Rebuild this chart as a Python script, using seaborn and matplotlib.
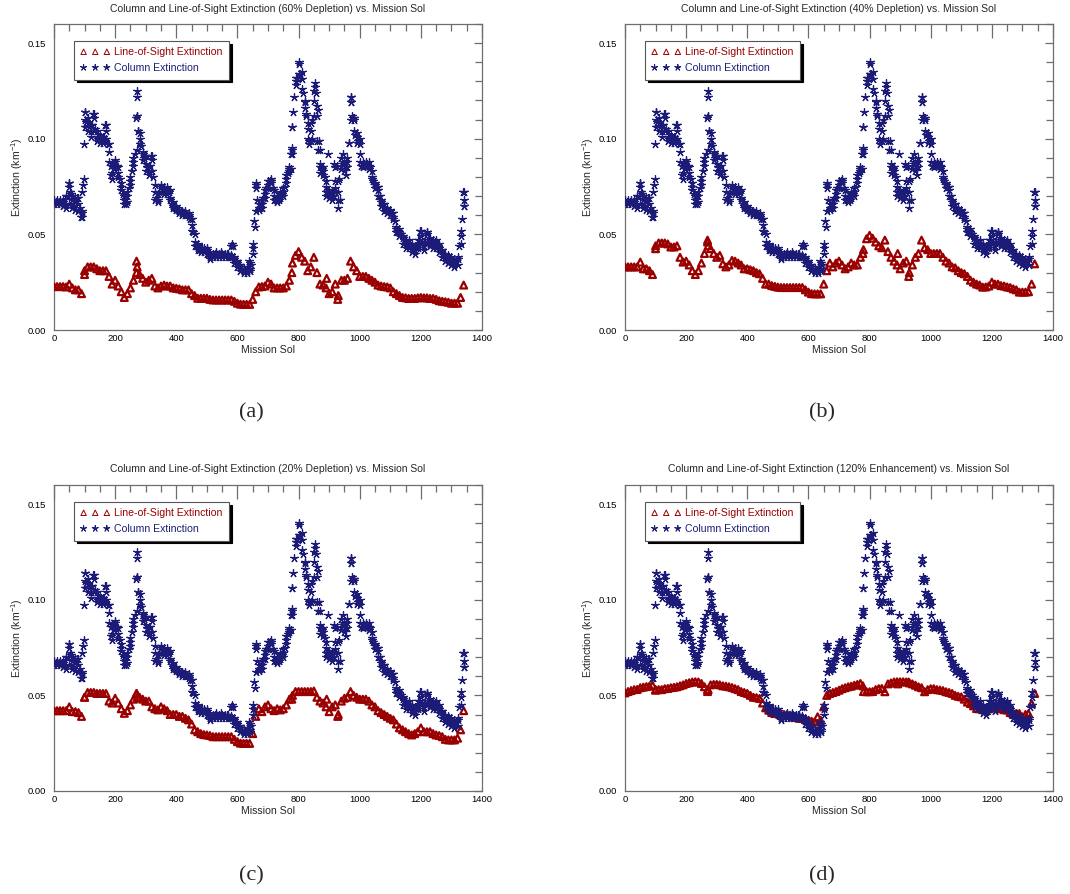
import numpy as np
import pandas as pd
import matplotlib
matplotlib.use("Agg")
import matplotlib.pyplot as plt
from matplotlib.ticker import MultipleLocator, FormatStrFormatter
import seaborn as sns

# ---------------------------------------------------------------------------
# Column extinction (same in every panel), sampled every 5 sols
# ---------------------------------------------------------------------------
col_sol = np.arange(0, 1345, 5)
col_ext = [
    0.067, 0.067, 0.067, 0.067, 0.067, 0.067, 0.067, 0.066, 0.066, 0.070,
    0.075, 0.071, 0.068, 0.065, 0.067, 0.069, 0.066, 0.064, 0.062, 0.076,
    0.110, 0.109, 0.108, 0.106, 0.104, 0.107, 0.111, 0.105, 0.101, 0.100,
    0.100, 0.101, 0.099, 0.100, 0.104, 0.097, 0.093, 0.086, 0.082, 0.084,
    0.088, 0.086, 0.082, 0.079, 0.075, 0.071, 0.068, 0.066, 0.070, 0.074,
    0.078, 0.083, 0.088, 0.092, 0.112, 0.104, 0.100, 0.096, 0.092, 0.090,
    0.087, 0.085, 0.083, 0.086, 0.089, 0.080, 0.072, 0.069, 0.068, 0.072,
    0.075, 0.074, 0.073, 0.073, 0.073, 0.072, 0.068, 0.066, 0.065, 0.064,
    0.064, 0.063, 0.062, 0.062, 0.061, 0.061, 0.061, 0.060, 0.060, 0.058,
    0.055, 0.051, 0.046, 0.044, 0.043, 0.042, 0.042, 0.043, 0.042, 0.042,
    0.042, 0.040, 0.038, 0.039, 0.039, 0.040, 0.040, 0.039, 0.039, 0.041,
    0.039, 0.039, 0.039, 0.040, 0.039, 0.038, 0.039, 0.044, 0.037, 0.036,
    0.035, 0.034, 0.033, 0.032, 0.031, 0.031, 0.031, 0.033, 0.032, 0.034,
    0.043, 0.057, 0.074, 0.068, 0.064, 0.064, 0.066, 0.069, 0.071, 0.074,
    0.076, 0.078, 0.078, 0.074, 0.070, 0.068, 0.068, 0.068, 0.070, 0.071,
    0.072, 0.075, 0.079, 0.082, 0.084, 0.084, 0.094, 0.122, 0.130, 0.132,
    0.139, 0.134, 0.131, 0.124, 0.119, 0.113, 0.105, 0.099, 0.104, 0.110,
    0.120, 0.127, 0.112, 0.094, 0.085, 0.084, 0.083, 0.080, 0.075, 0.073,
    0.072, 0.071, 0.070, 0.070, 0.078, 0.086, 0.072, 0.068, 0.086, 0.087,
    0.087, 0.085, 0.088, 0.098, 0.119, 0.112, 0.110, 0.102, 0.101, 0.099,
    0.092, 0.086, 0.086, 0.087, 0.087, 0.087, 0.086, 0.085, 0.080, 0.078,
    0.076, 0.075, 0.073, 0.070, 0.067, 0.066, 0.064, 0.063, 0.063, 0.062,
    0.062, 0.061, 0.059, 0.057, 0.053, 0.052, 0.051, 0.050, 0.048, 0.047,
    0.045, 0.045, 0.045, 0.044, 0.043, 0.042, 0.042, 0.043, 0.045, 0.047,
    0.049, 0.046, 0.044, 0.046, 0.050, 0.047, 0.045, 0.045, 0.045, 0.046,
    0.045, 0.044, 0.043, 0.042, 0.040, 0.039, 0.038, 0.037, 0.037, 0.036,
    0.036, 0.035, 0.035, 0.036, 0.037, 0.044, 0.049, 0.058, 0.068,
]

# Lower and upper edges of the column-extinction cloud, every 10 sols
col_edge_sol = np.arange(0, 1350, 10)
col_lo = [
    0.066, 0.066, 0.066, 0.065, 0.064, 0.066, 0.064, 0.063, 0.062, 0.059,
    0.106, 0.104, 0.101, 0.104, 0.099, 0.098, 0.098, 0.100, 0.088, 0.079,
    0.085, 0.080, 0.073, 0.066, 0.067, 0.076, 0.086, 0.094, 0.097, 0.089,
    0.083, 0.081, 0.083, 0.068, 0.067, 0.072, 0.071, 0.071, 0.069, 0.064,
    0.063, 0.061, 0.060, 0.060, 0.059, 0.052, 0.044, 0.042, 0.041, 0.041,
    0.040, 0.037, 0.038, 0.038, 0.038, 0.038, 0.038, 0.038, 0.038, 0.035,
    0.033, 0.031, 0.030, 0.030, 0.031, 0.040, 0.062, 0.063, 0.064, 0.069,
    0.074, 0.077, 0.068, 0.067, 0.069, 0.070, 0.077, 0.083, 0.092, 0.128,
    0.134, 0.126, 0.116, 0.100, 0.099, 0.112, 0.099, 0.082, 0.081, 0.072,
    0.069, 0.068, 0.072, 0.068, 0.084, 0.083, 0.085, 0.110, 0.104, 0.098,
    0.088, 0.085, 0.086, 0.084, 0.079, 0.074, 0.070, 0.065, 0.062, 0.061,
    0.060, 0.058, 0.051, 0.049, 0.045, 0.043, 0.043, 0.041, 0.040, 0.043,
    0.045, 0.042, 0.046, 0.044, 0.043, 0.043, 0.041, 0.038, 0.036, 0.035,
    0.034, 0.033, 0.034, 0.045, 0.065,
]
col_hi = [
    0.068, 0.068, 0.068, 0.068, 0.070, 0.077, 0.070, 0.069, 0.069, 0.072,
    0.114, 0.111, 0.107, 0.113, 0.104, 0.102, 0.101, 0.107, 0.097, 0.087,
    0.089, 0.085, 0.077, 0.070, 0.072, 0.080, 0.090, 0.112, 0.103, 0.093,
    0.091, 0.086, 0.091, 0.076, 0.071, 0.076, 0.075, 0.075, 0.073, 0.067,
    0.065, 0.063, 0.062, 0.062, 0.061, 0.058, 0.050, 0.045, 0.043, 0.043,
    0.043, 0.040, 0.040, 0.041, 0.040, 0.040, 0.040, 0.040, 0.044, 0.038,
    0.036, 0.034, 0.032, 0.033, 0.035, 0.045, 0.076, 0.066, 0.068, 0.073,
    0.078, 0.079, 0.073, 0.070, 0.072, 0.074, 0.081, 0.085, 0.106, 0.132,
    0.140, 0.135, 0.120, 0.108, 0.108, 0.125, 0.117, 0.087, 0.085, 0.078,
    0.073, 0.072, 0.085, 0.078, 0.090, 0.088, 0.090, 0.122, 0.111, 0.103,
    0.097, 0.088, 0.088, 0.088, 0.083, 0.077, 0.075, 0.068, 0.066, 0.064,
    0.063, 0.061, 0.054, 0.053, 0.049, 0.047, 0.047, 0.045, 0.044, 0.047,
    0.052, 0.046, 0.051, 0.048, 0.047, 0.047, 0.045, 0.042, 0.040, 0.039,
    0.038, 0.037, 0.038, 0.052, 0.072,
]

# Scattered column retrievals away from the main band
col_extra_sol = [48, 52, 87, 92, 97, 99, 101, 128, 168, 185,
                 268, 270, 272, 275, 318, 582, 638, 656, 660, 775,
                 778, 780, 782, 825, 835, 845, 855, 858, 862, 866,
                 870, 890, 895, 915, 920, 928, 932, 945, 955, 965,
                 970, 972, 978, 1000, 1198, 1220, 1337, 1340]
col_extra_ext = [0.077, 0.072, 0.059, 0.061, 0.079, 0.097, 0.114, 0.113, 0.107, 0.081,
                 0.111, 0.125, 0.122, 0.104, 0.091, 0.045, 0.036, 0.054, 0.077, 0.092,
                 0.095, 0.106, 0.114, 0.112, 0.097, 0.100, 0.129, 0.124, 0.115, 0.099,
                 0.094, 0.070, 0.092, 0.087, 0.074, 0.064, 0.079, 0.092, 0.081, 0.098,
                 0.122, 0.119, 0.111, 0.100, 0.052, 0.051, 0.072, 0.065]

# ---------------------------------------------------------------------------
# Line-of-sight extinction for the four scenarios, sampled every 10 sols
# ---------------------------------------------------------------------------
los_sol = np.arange(0, 1350, 10)
los_dep60 = [
    0.0227, 0.0227, 0.0227, 0.0227, 0.0225, 0.024, 0.022, 0.021, 0.021, 0.019,
    0.031, 0.033, 0.033, 0.033, 0.032, 0.031, 0.031, 0.031, 0.028, 0.024,
    0.026, 0.023, 0.020, 0.017, 0.019, 0.022, 0.026, 0.030, 0.029, 0.027,
    0.025, 0.026, 0.027, 0.023, 0.022, 0.023, 0.0235, 0.023, 0.023, 0.022,
    0.0218, 0.0215, 0.021, 0.021, 0.021, 0.019, 0.018, 0.0166, 0.0166, 0.0166,
    0.0166, 0.016, 0.0157, 0.0157, 0.0157, 0.0157, 0.0157, 0.0157, 0.0157, 0.015,
    0.014, 0.0135, 0.0134, 0.0134, 0.0134, 0.016, 0.020, 0.0225, 0.0227, 0.023,
    0.025, 0.024, 0.022, 0.022, 0.022, 0.022, 0.023, 0.026, 0.035, 0.039,
    0.041, 0.038, 0.036, 0.031, 0.033, 0.038, 0.030, 0.024, 0.0235, 0.022,
    0.019, 0.020, 0.024, 0.018, 0.026, 0.026, 0.027, 0.036, 0.033, 0.031,
    0.028, 0.028, 0.028, 0.027, 0.026, 0.025, 0.0235, 0.023, 0.0227, 0.0225,
    0.022, 0.020, 0.019, 0.018, 0.017, 0.0168, 0.0165, 0.0165, 0.0165, 0.0168,
    0.017, 0.0168, 0.0168, 0.0165, 0.0165, 0.016, 0.0153, 0.015, 0.0148, 0.0145,
    0.014, 0.014, 0.014, 0.017, 0.0235,
]
los_dep40 = [
    0.033, 0.033, 0.033, 0.033, 0.033, 0.0355, 0.032, 0.032, 0.031, 0.029,
    0.044, 0.0455, 0.0455, 0.0455, 0.045, 0.0434, 0.0434, 0.044, 0.038, 0.0355,
    0.036, 0.034, 0.031, 0.029, 0.031, 0.035, 0.040, 0.046, 0.0425, 0.040,
    0.038, 0.039, 0.0346, 0.033, 0.034, 0.0364, 0.036, 0.035, 0.034, 0.032,
    0.032, 0.0315, 0.031, 0.030, 0.0294, 0.027, 0.024, 0.024, 0.0232, 0.0228,
    0.0224, 0.0222, 0.0222, 0.0222, 0.0222, 0.0222, 0.0222, 0.0222, 0.0222, 0.021,
    0.0198, 0.019, 0.0189, 0.0189, 0.0189, 0.024, 0.031, 0.035, 0.033, 0.035,
    0.036, 0.034, 0.032, 0.033, 0.035, 0.034, 0.034, 0.038, 0.042, 0.0477,
    0.0495, 0.048, 0.046, 0.044, 0.043, 0.047, 0.041, 0.038, 0.036, 0.034,
    0.032, 0.035, 0.036, 0.030, 0.034, 0.038, 0.040, 0.047, 0.043, 0.042,
    0.040, 0.040, 0.040, 0.040, 0.038, 0.036, 0.035, 0.033, 0.0325, 0.031,
    0.030, 0.0294, 0.028, 0.026, 0.025, 0.024, 0.0235, 0.0224, 0.0225, 0.023,
    0.025, 0.024, 0.024, 0.0232, 0.023, 0.0225, 0.0222, 0.0215, 0.021, 0.0198,
    0.0198, 0.0198, 0.020, 0.024, 0.0346,
]
los_dep20 = [
    0.042, 0.042, 0.042, 0.042, 0.042, 0.044, 0.0415, 0.0415, 0.041, 0.039,
    0.049, 0.0515, 0.0515, 0.0515, 0.051, 0.051, 0.051, 0.051, 0.047, 0.046,
    0.0485, 0.046, 0.043, 0.0406, 0.042, 0.045, 0.048, 0.051, 0.049, 0.048,
    0.047, 0.047, 0.044, 0.043, 0.0424, 0.044, 0.043, 0.042, 0.040, 0.040,
    0.040, 0.039, 0.039, 0.038, 0.0372, 0.035, 0.032, 0.031, 0.030, 0.0295,
    0.0293, 0.029, 0.0284, 0.0284, 0.0284, 0.0284, 0.0284, 0.0284, 0.0284, 0.027,
    0.0258, 0.025, 0.0249, 0.0249, 0.0249, 0.030, 0.039, 0.043, 0.0415, 0.044,
    0.045, 0.043, 0.042, 0.043, 0.0424, 0.043, 0.045, 0.048, 0.050, 0.052,
    0.052, 0.052, 0.052, 0.052, 0.052, 0.0523, 0.049, 0.047, 0.046, 0.044,
    0.0415, 0.044, 0.045, 0.040, 0.047, 0.0485, 0.049, 0.052, 0.050, 0.049,
    0.048, 0.048, 0.048, 0.047, 0.045, 0.044, 0.042, 0.041, 0.040, 0.039,
    0.038, 0.0372, 0.035, 0.033, 0.032, 0.031, 0.030, 0.0293, 0.030, 0.031,
    0.033, 0.031, 0.031, 0.031, 0.030, 0.0293, 0.029, 0.0284, 0.027, 0.0267,
    0.0267, 0.0267, 0.0276, 0.032, 0.042,
]
los_enh120 = [
    0.0513, 0.052, 0.0525, 0.053, 0.0531, 0.054, 0.0543, 0.0546, 0.0548, 0.0553,
    0.0527, 0.053, 0.053, 0.0535, 0.0536, 0.054, 0.0542, 0.0545, 0.055, 0.0555,
    0.0562, 0.0566, 0.057, 0.0571, 0.057, 0.0562, 0.0545, 0.053, 0.0555, 0.0557,
    0.0557, 0.0555, 0.055, 0.0548, 0.0545, 0.0541, 0.0535, 0.053, 0.052, 0.0515,
    0.051, 0.050, 0.049, 0.0488, 0.0484, 0.046, 0.0435, 0.0423, 0.041, 0.0405,
    0.0405, 0.040, 0.040, 0.040, 0.0396, 0.039, 0.0385, 0.038, 0.0379, 0.0375,
    0.037, 0.0365, 0.0361, 0.0388, 0.037, 0.044, 0.050, 0.051, 0.0515, 0.052,
    0.0527, 0.0535, 0.054, 0.0545, 0.0548, 0.0553, 0.0557, 0.0562, 0.052, 0.0519,
    0.0519, 0.052, 0.053, 0.0535, 0.0536, 0.0519, 0.056, 0.0565, 0.057, 0.0571,
    0.0571, 0.0571, 0.057, 0.0565, 0.056, 0.0553, 0.0545, 0.054, 0.0519, 0.053,
    0.0535, 0.0535, 0.053, 0.0528, 0.0525, 0.0519, 0.0515, 0.051, 0.050, 0.0495,
    0.0492, 0.048, 0.0465, 0.0457, 0.0445, 0.0431, 0.043, 0.0425, 0.0423, 0.043,
    0.044, 0.0435, 0.043, 0.0431, 0.0425, 0.0423, 0.041, 0.040, 0.0405, 0.0405,
    0.0388, 0.040, 0.0405, 0.0457, 0.051,
]

# Scattered line-of-sight retrievals
los_extra_sol = [100, 270, 272, 778, 892, 928]
los_extra_dep60 = [0.029, 0.036, 0.033, 0.030, 0.027, 0.016]
los_extra_dep40 = [0.0425, 0.047, 0.044, 0.040, 0.040, 0.028]
los_extra_dep20 = [0.049, 0.051, 0.049, 0.048, 0.048, 0.039]
los_extra_enh120 = [0.053, 0.052, 0.053, 0.055, 0.056, 0.057]

scenarios = ["60% Depletion", "40% Depletion", "20% Depletion", "120% Enhancement"]
panel_tags = ["(a)", "(b)", "(c)", "(d)"]
los_main = [los_dep60, los_dep40, los_dep20, los_enh120]
los_extra = [los_extra_dep60, los_extra_dep40, los_extra_dep20, los_extra_enh120]

RED = "#9a0000"
BLUE = "#1c1c78"
AXIS_GREY = "#6e6e6e"

sns.set_style("white")
plt.rcParams["font.family"] = ["Liberation Sans", "DejaVu Sans"]
plt.rcParams["mathtext.default"] = "regular"

W, H = 1070, 894
fig = plt.figure(figsize=(W / 100, H / 100), dpi=100)

# axes rectangles in pixels: (left, top, width, height)
rects_px = [(54, 24, 428, 306), (625, 24, 428, 306),
            (54, 485, 428, 306), (625, 485, 428, 306)]
tag_pos_px = [(251, 413), (822, 413), (251, 876), (822, 876)]

star = (5, 2, 0)  # five-armed asterisk

col_df = pd.DataFrame({
    "sol": np.concatenate([col_sol, col_edge_sol, col_edge_sol, col_extra_sol]),
    "ext": np.concatenate([col_ext, col_lo, col_hi, col_extra_ext]),
})

for i in range(4):
    l, t, w, h = rects_px[i]
    ax = fig.add_axes([l / W, 1 - (t + h) / H, w / W, h / H])

    los_df = pd.DataFrame({
        "sol": np.concatenate([los_sol, los_extra_sol]),
        "ext": np.concatenate([los_main[i], los_extra[i]]),
    })

    sns.scatterplot(data=los_df, x="sol", y="ext", ax=ax, marker="^",
                    s=24, facecolor="none", edgecolor=RED, color=RED,
                    linewidth=1.6, label="Line-of-Sight Extinction", zorder=3)
    sns.scatterplot(data=col_df, x="sol", y="ext", ax=ax, marker=star,
                    s=30, color=BLUE, edgecolor=BLUE, linewidth=0.9,
                    label="Column Extinction", zorder=4)

    ax.set_xlim(0, 1400)
    ax.set_ylim(0, 0.16)
    ax.xaxis.set_major_locator(MultipleLocator(200))
    ax.xaxis.set_minor_locator(MultipleLocator(50))
    ax.yaxis.set_major_locator(MultipleLocator(0.05))
    ax.yaxis.set_minor_locator(MultipleLocator(0.01))
    ax.yaxis.set_major_formatter(FormatStrFormatter("%.2f"))

    ax.tick_params(axis="both", which="both", direction="in",
                   top=True, right=True, colors=AXIS_GREY, labelcolor="black",
                   labelsize=6.8, width=0.9)
    ax.tick_params(axis="x", which="major", length=10, pad=3)
    ax.tick_params(axis="x", which="minor", length=5)
    ax.tick_params(axis="y", which="major", length=5.5, pad=6)
    ax.tick_params(axis="y", which="minor", length=5)
    for sp in ax.spines.values():
        sp.set_color(AXIS_GREY)
        sp.set_linewidth(0.9)

    ax.set_xlabel("Mission Sol", fontsize=7.6, labelpad=1)
    ax.set_ylabel("Extinction (km$^{-1}$)", fontsize=7.6, labelpad=2)
    ax.set_title(f"Column and Line-of-Sight Extinction ({scenarios[i]}) vs. Mission Sol",
                 fontsize=7.5, pad=9)

    leg = ax.legend(loc="upper left", bbox_to_anchor=(0.047, 0.944),
                    borderaxespad=0, scatterpoints=3, scatteryoffsets=[0.5],
                    markerscale=0.8,
                    fontsize=7.6, frameon=True, fancybox=False,
                    shadow={"color": "black", "alpha": 1.0},
                    handlelength=2.8, handletextpad=0.4, borderpad=0.6,
                    labelspacing=0.55, labelcolor=[RED, BLUE])
    leg.get_frame().set_edgecolor("#555555")
    leg.get_frame().set_linewidth(0.8)
    leg.get_frame().set_alpha(1.0)
    for hnd in leg.legend_handles:
        hnd.set_linewidth(0.7)

    tx, ty = tag_pos_px[i]
    fig.text(tx / W, 1 - ty / H, panel_tags[i], ha="center", va="center",
             fontsize=16, family=["Liberation Serif", "DejaVu Serif"])

fig.savefig("out.png", dpi=100)
